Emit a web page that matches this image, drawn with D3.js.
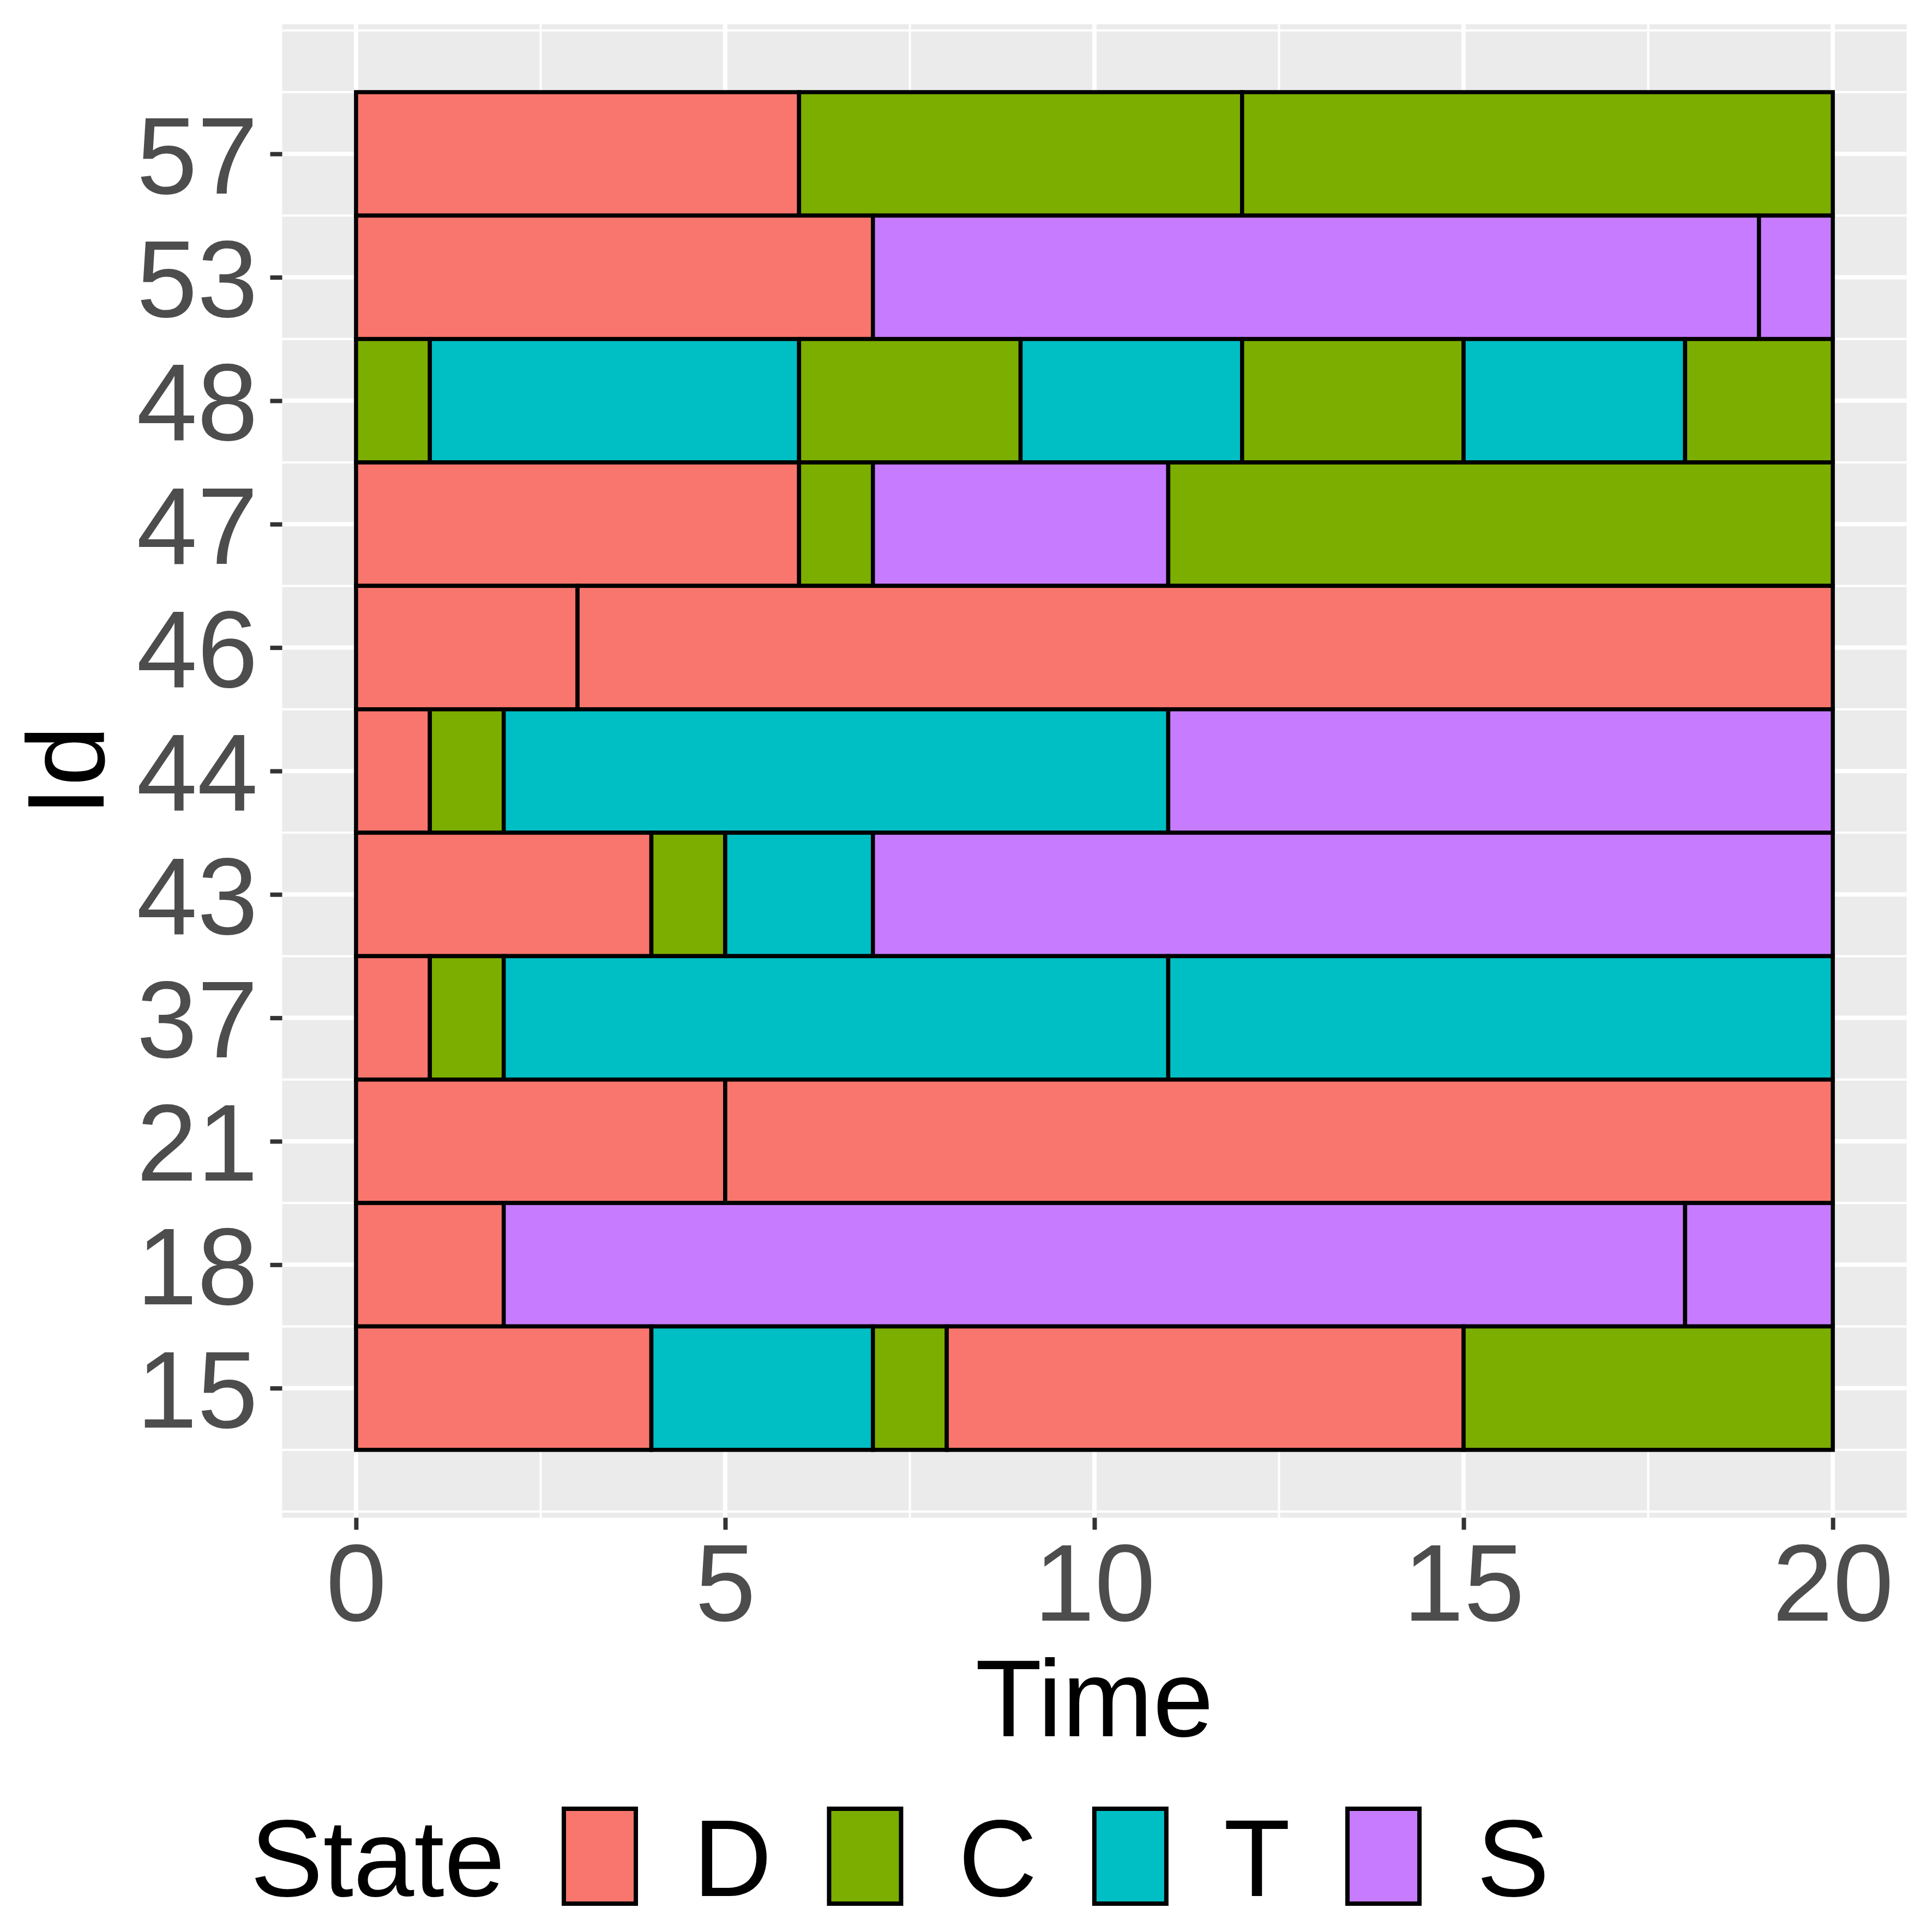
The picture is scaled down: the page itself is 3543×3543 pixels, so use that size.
<!DOCTYPE html>
<html>
<head>
<meta charset="utf-8">
<script src="https://cdn.jsdelivr.net/npm/d3@7"></script>
<style>
  html, body { margin: 0; padding: 0; background: #ffffff; }
  svg { display: block; }
  text { font-family: "Liberation Sans", Arial, Helvetica, sans-serif; }
</style>
</head>
<body>
<svg id="chart" width="3543" height="3543"></svg>
<script>
// ---- Data ----
const ids = ["15", "18", "21", "37", "43", "44", "46", "47", "48", "53", "57"]; // bottom to top
const states = ["D", "C", "T", "S"];
const stateColors = ["#F8766D", "#7CAE00", "#00BFC4", "#C77CFF"];
const xTicks = [0, 5, 10, 15, 20];

const segId    = ["57","57","57",
                  "53","53","53",
                  "48","48","48","48","48","48","48",
                  "47","47","47","47",
                  "46","46",
                  "44","44","44","44",
                  "43","43","43","43",
                  "37","37","37","37",
                  "21","21",
                  "18","18","18",
                  "15","15","15","15","15"];
const segStart = [0,6,12,
                  0,7,19,
                  0,1,6,9,12,15,18,
                  0,6,7,11,
                  0,3,
                  0,1,2,11,
                  0,4,5,7,
                  0,1,2,11,
                  0,5,
                  0,2,18,
                  0,4,7,8,15];
const segEnd   = [6,12,20,
                  7,19,20,
                  1,6,9,12,15,18,20,
                  6,7,11,20,
                  3,20,
                  1,2,11,20,
                  4,5,7,20,
                  1,2,11,20,
                  5,20,
                  2,18,20,
                  4,7,8,15,20];
const segState = ["D","C","C",
                  "D","S","S",
                  "C","T","C","T","C","T","C",
                  "D","C","S","C",
                  "D","D",
                  "D","C","T","S",
                  "D","C","T","S",
                  "D","C","T","T",
                  "D","D",
                  "D","S","S",
                  "D","T","C","D","C"];

// ---- Layout ----
const svg = d3.select("#chart");
const P = { left: 517.5, right: 3496.5, top: 44.5, bottom: 2783.3 };

const x = d3.scaleLinear().domain([-1, 21]).range([P.left, P.right]);
const y = d3.scaleLinear().domain([-0.05, 12.05]).range([P.bottom, P.top]);
const color = d3.scaleOrdinal().domain(states).range(stateColors);
const rowIndex = id => ids.indexOf(id) + 1;

// panel background
svg.append("rect")
  .attr("x", P.left).attr("y", P.top)
  .attr("width", P.right - P.left).attr("height", P.bottom - P.top)
  .attr("fill", "#EBEBEB");

// gridlines
const xMinor = [2.5, 7.5, 12.5, 17.5];
const yMajor = d3.range(1, ids.length + 1);
const yMinor = d3.range(0, 12.01, 0.5).filter(v => v % 1 !== 0).concat([0, 12]);

const grid = svg.append("g");
grid.selectAll(".ymin").data(yMinor).join("line")
  .attr("x1", P.left).attr("x2", P.right)
  .attr("y1", d => y(d)).attr("y2", d => y(d))
  .attr("stroke", "#fff").attr("stroke-width", 4);
grid.selectAll(".xmin").data(xMinor).join("line")
  .attr("y1", P.top).attr("y2", P.bottom)
  .attr("x1", d => x(d)).attr("x2", d => x(d))
  .attr("stroke", "#fff").attr("stroke-width", 4);
grid.selectAll(".ymaj").data(yMajor).join("line")
  .attr("x1", P.left).attr("x2", P.right)
  .attr("y1", d => y(d)).attr("y2", d => y(d))
  .attr("stroke", "#fff").attr("stroke-width", 8);
grid.selectAll(".xmaj").data(xTicks).join("line")
  .attr("y1", P.top).attr("y2", P.bottom)
  .attr("x1", d => x(d)).attr("x2", d => x(d))
  .attr("stroke", "#fff").attr("stroke-width", 8);

// bars
const segs = segId.map((id, i) => ({ id, s: segStart[i], e: segEnd[i], st: segState[i] }));
svg.append("g").selectAll("rect").data(segs).join("rect")
  .attr("x", d => x(d.s))
  .attr("width", d => x(d.e) - x(d.s))
  .attr("y", d => y(rowIndex(d.id) + 0.5))
  .attr("height", d => y(rowIndex(d.id) - 0.5) - y(rowIndex(d.id) + 0.5))
  .attr("fill", d => color(d.st))
  .attr("stroke", "#000").attr("stroke-width", 7.5);

// axes
const xAxis = svg.append("g").attr("transform", `translate(0,${P.bottom})`)
  .call(d3.axisBottom(x).tickValues(xTicks).tickSize(22).tickPadding(25).tickFormat(d3.format("d")));
const yAxis = svg.append("g").attr("transform", `translate(${P.left},0)`)
  .call(d3.axisLeft(y).tickValues(yMajor).tickSize(22).tickPadding(22.5).tickFormat(d => ids[d - 1]));
[xAxis, yAxis].forEach(a => {
  a.select(".domain").remove();
  a.selectAll(".tick line").attr("stroke", "#333333").attr("stroke-width", 8);
  a.selectAll(".tick text").attr("fill", "#4D4D4D")
    .style("font-size", "200px")
    .style("font-family", '"Liberation Sans", Arial, Helvetica, sans-serif');
});
yAxis.selectAll(".tick text").attr("dy", "0.36em");

// axis titles
svg.append("text")
  .attr("x", (P.left + P.right) / 2).attr("y", 3184)
  .attr("text-anchor", "middle").attr("fill", "#000")
  .style("font-size", "200px").text("Time");
svg.append("text")
  .attr("transform", `translate(190,${(P.top + P.bottom) / 2}) rotate(-90)`)
  .attr("text-anchor", "middle").attr("fill", "#000")
  .style("font-size", "200px").text("Id");

// legend
const leg = svg.append("g");
const baseY = 3477;
const title = leg.append("text").attr("x", 459).attr("y", baseY)
  .attr("fill", "#000").style("font-size", "200px").text("State");
let cx = 459 + title.node().getComputedTextLength() + 104;
const keyW = 140, keyH = 182, keyTop = 3313, sw = 8;
states.forEach((s, i) => {
  leg.append("rect")
    .attr("x", cx + sw / 2).attr("y", keyTop + sw / 2)
    .attr("width", keyW - sw).attr("height", keyH - sw)
    .attr("fill", color(s)).attr("stroke", "#000").attr("stroke-width", sw);
  const lx = cx + keyW + 101;
  const t = leg.append("text").attr("x", lx).attr("y", baseY)
    .attr("fill", "#000").style("font-size", "200px").text(s);
  cx = lx + t.node().getComputedTextLength() + 101;
});
</script>
</body>
</html>
